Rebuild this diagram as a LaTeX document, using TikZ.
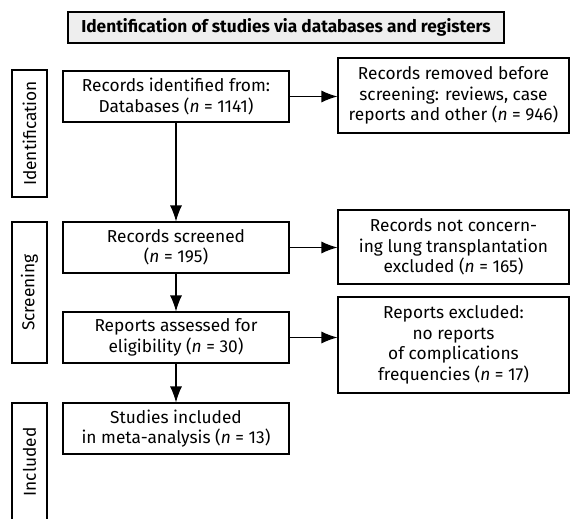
\documentclass[tikz,border=0pt]{standalone}
\usepackage{fontspec}
\setmainfont{Fira Sans}
\usetikzlibrary{positioning,arrows.meta}
\definecolor{titlegray}{HTML}{EEEEEE}

\begin{document}
\begin{tikzpicture}[x=1pt, y=-1pt, font=\fontsize{17.3}{20.5}\selectfont]
        % Define block styles
        \tikzstyle{block} = [rectangle, draw, line width=1.1pt, align=center, inner sep=0pt, minimum width=226pt, minimum height=51pt]
        \tikzstyle{sidebox} = [block, minimum width=231pt]
        \tikzstyle{phase} = [rectangle, draw, line width=1.1pt, inner sep=0pt, minimum width=35pt, rotate=90]
        \tikzstyle{line} = [draw, line width=1.1pt, -{Latex[length=16pt,width=12pt]}]

        \useasboundingbox (0,0) rectangle (570,519);

        % Title
        \node [rectangle, draw, fill=titlegray, line width=1.1pt, inner sep=0pt, minimum width=436pt, minimum height=31pt, font=\fontsize{17.3}{20.5}\selectfont\bfseries] (title) at (286,27.5) {Identification of studies via databases and registers};

        % Phases
        \node [phase, minimum height=35pt, minimum width=127pt] (ident) at (29.5,133.5) {Identification};
        \node [phase, minimum height=35pt, minimum width=141pt] (screen) at (29.5,292.5) {Screening};
        \node [phase, minimum height=35pt, minimum width=118pt] (incl) at (29.5,462) {Included};

        % Nodes
        \node [block] (identified) at (176,96.5) {Records identified from:\\Databases (\textit{n} = 1141)};
        \node [block] (screened) at (176,247.5) {Records screened\\(\textit{n} = 195)};
        \node [block] (assessed) at (176,337.5) {Reports assessed for\\eligibility (\textit{n} = 30)};
        \node [block] (included) at (176,428.5) {Studies included\\in meta-analysis (\textit{n} = 13)};

        \node [sidebox, minimum height=75pt] (removed) at (453.5,95.5) {Records removed before\\screening: reviews, case\\reports and other (\textit{n} = 946)};
        \node [sidebox, minimum height=74pt] (notlung) at (453.5,247) {Records not concern-\\ing lung transplantation\\excluded (\textit{n} = 165)};
        \node [sidebox, minimum height=96pt] (nofreq) at (453.5,345) {Reports excluded:\\no reports\\of complications\\frequencies (\textit{n} = 17)};

        % Arrows
        \path [line] (identified) -- (screened);
        \path [line] (screened) -- (assessed);
        \path [line] (assessed) -- (included);
        \path [line] (identified.east) -- (identified.east -| removed.west);
        \path [line] (screened.east) -- (screened.east -| notlung.west);
        \path [line] (assessed.east) -- (assessed.east -| nofreq.west);

    \end{tikzpicture}
\end{document}
